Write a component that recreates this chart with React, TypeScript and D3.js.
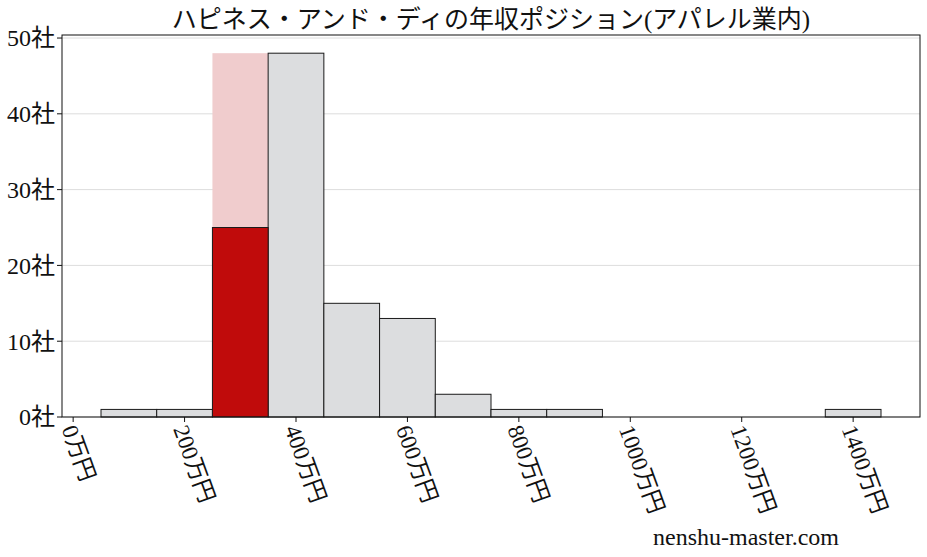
import React from 'react';
import * as d3 from 'd3';

// bin centres (万円) and company counts
const binCenters = [100, 200, 300, 400, 500, 600, 700, 800, 900, 1400];
const binCounts = [1, 1, 48, 48, 15, 13, 3, 1, 1, 1];
const highlightCenter = 300;
const highlightCount = 25;
const xTicks = [0, 200, 400, 600, 800, 1000, 1200, 1400];
const yTicks = [0, 10, 20, 30, 40, 50];
const title = 'ハピネス・アンド・ディの年収ポジション(アパレル業内)';
const watermark = 'nenshu-master.com';

const W = 927;
const H = 557;
const margin = { top: 35, right: 7, bottom: 140, left: 62 };
const FONT = '"Liberation Serif", "DejaVu Serif", "Noto Sans CJK JP", serif';

const App: React.FC = () => {
  const innerW = W - margin.left - margin.right;
  const innerH = H - margin.top - margin.bottom;

  const x = d3.scaleLinear().domain([-20, 1520]).range([0, innerW]);
  const y = d3.scaleLinear().domain([0, 50.4]).range([innerH, 0]);
  const binW = 100;

  return (
    <svg width={W} height={H} style={{ display: 'block', position: 'absolute', left: 0, top: 0 }}>
      <rect width={W} height={H} fill="#fff" />
      <text x={margin.left + innerW / 2} y={28} textAnchor="middle" fontSize={25} fontFamily={FONT} fill="#111">
        {title}
      </text>
      <g transform={`translate(${margin.left},${margin.top})`}>
        {/* grid */}
        {yTicks.map((t) => (
          <line key={t} x1={0} x2={innerW} y1={y(t)} y2={y(t)} stroke="#dddddd" strokeWidth={1} />
        ))}
        {/* bars */}
        {binCenters.map((c, i) => {
          const isHi = c === highlightCenter;
          const x0 = x(c - binW / 2);
          const x1 = x(c + binW / 2);
          return (
            <rect
              key={c}
              x={x0}
              y={y(binCounts[i])}
              width={x1 - x0}
              height={innerH - y(binCounts[i])}
              fill={isHi ? '#f0cccd' : '#dcdddf'}
              stroke={isHi ? 'none' : '#1a1a1a'}
              strokeWidth={1}
            />
          );
        })}
        <rect
          x={x(highlightCenter - binW / 2)}
          y={y(highlightCount)}
          width={x(highlightCenter + binW / 2) - x(highlightCenter - binW / 2)}
          height={innerH - y(highlightCount)}
          fill="#c00b0b"
          stroke="#1a1a1a"
          strokeWidth={1}
        />
        {/* frame */}
        <rect x={0} y={0} width={innerW} height={innerH} fill="none" stroke="#111" strokeWidth={1} />
        {/* y axis */}
        {yTicks.map((t) => (
          <g key={t} transform={`translate(0,${y(t)})`}>
            <line x1={-5} x2={0} stroke="#111" />
            <text x={-7} dy="0.35em" textAnchor="end" fontSize={24} fontFamily={FONT} fill="#111">
              {`${t}社`}
            </text>
          </g>
        ))}
        {/* x axis */}
        {xTicks.map((t) => (
          <g key={t} transform={`translate(${x(t)},${innerH})`}>
            <line y1={0} y2={5} stroke="#111" />
            <text
              transform="translate(-4,9) rotate(70)"
              dy="0.35em"
              textAnchor="start"
              fontSize={23}
              fontFamily={FONT}
              fill="#111"
            >
              {`${t}万円`}
            </text>
          </g>
        ))}
      </g>
      <text x={746} y={545} textAnchor="middle" fontSize={24} fontFamily={FONT} fill="#111">
        {watermark}
      </text>
    </svg>
  );
};

export default App;
